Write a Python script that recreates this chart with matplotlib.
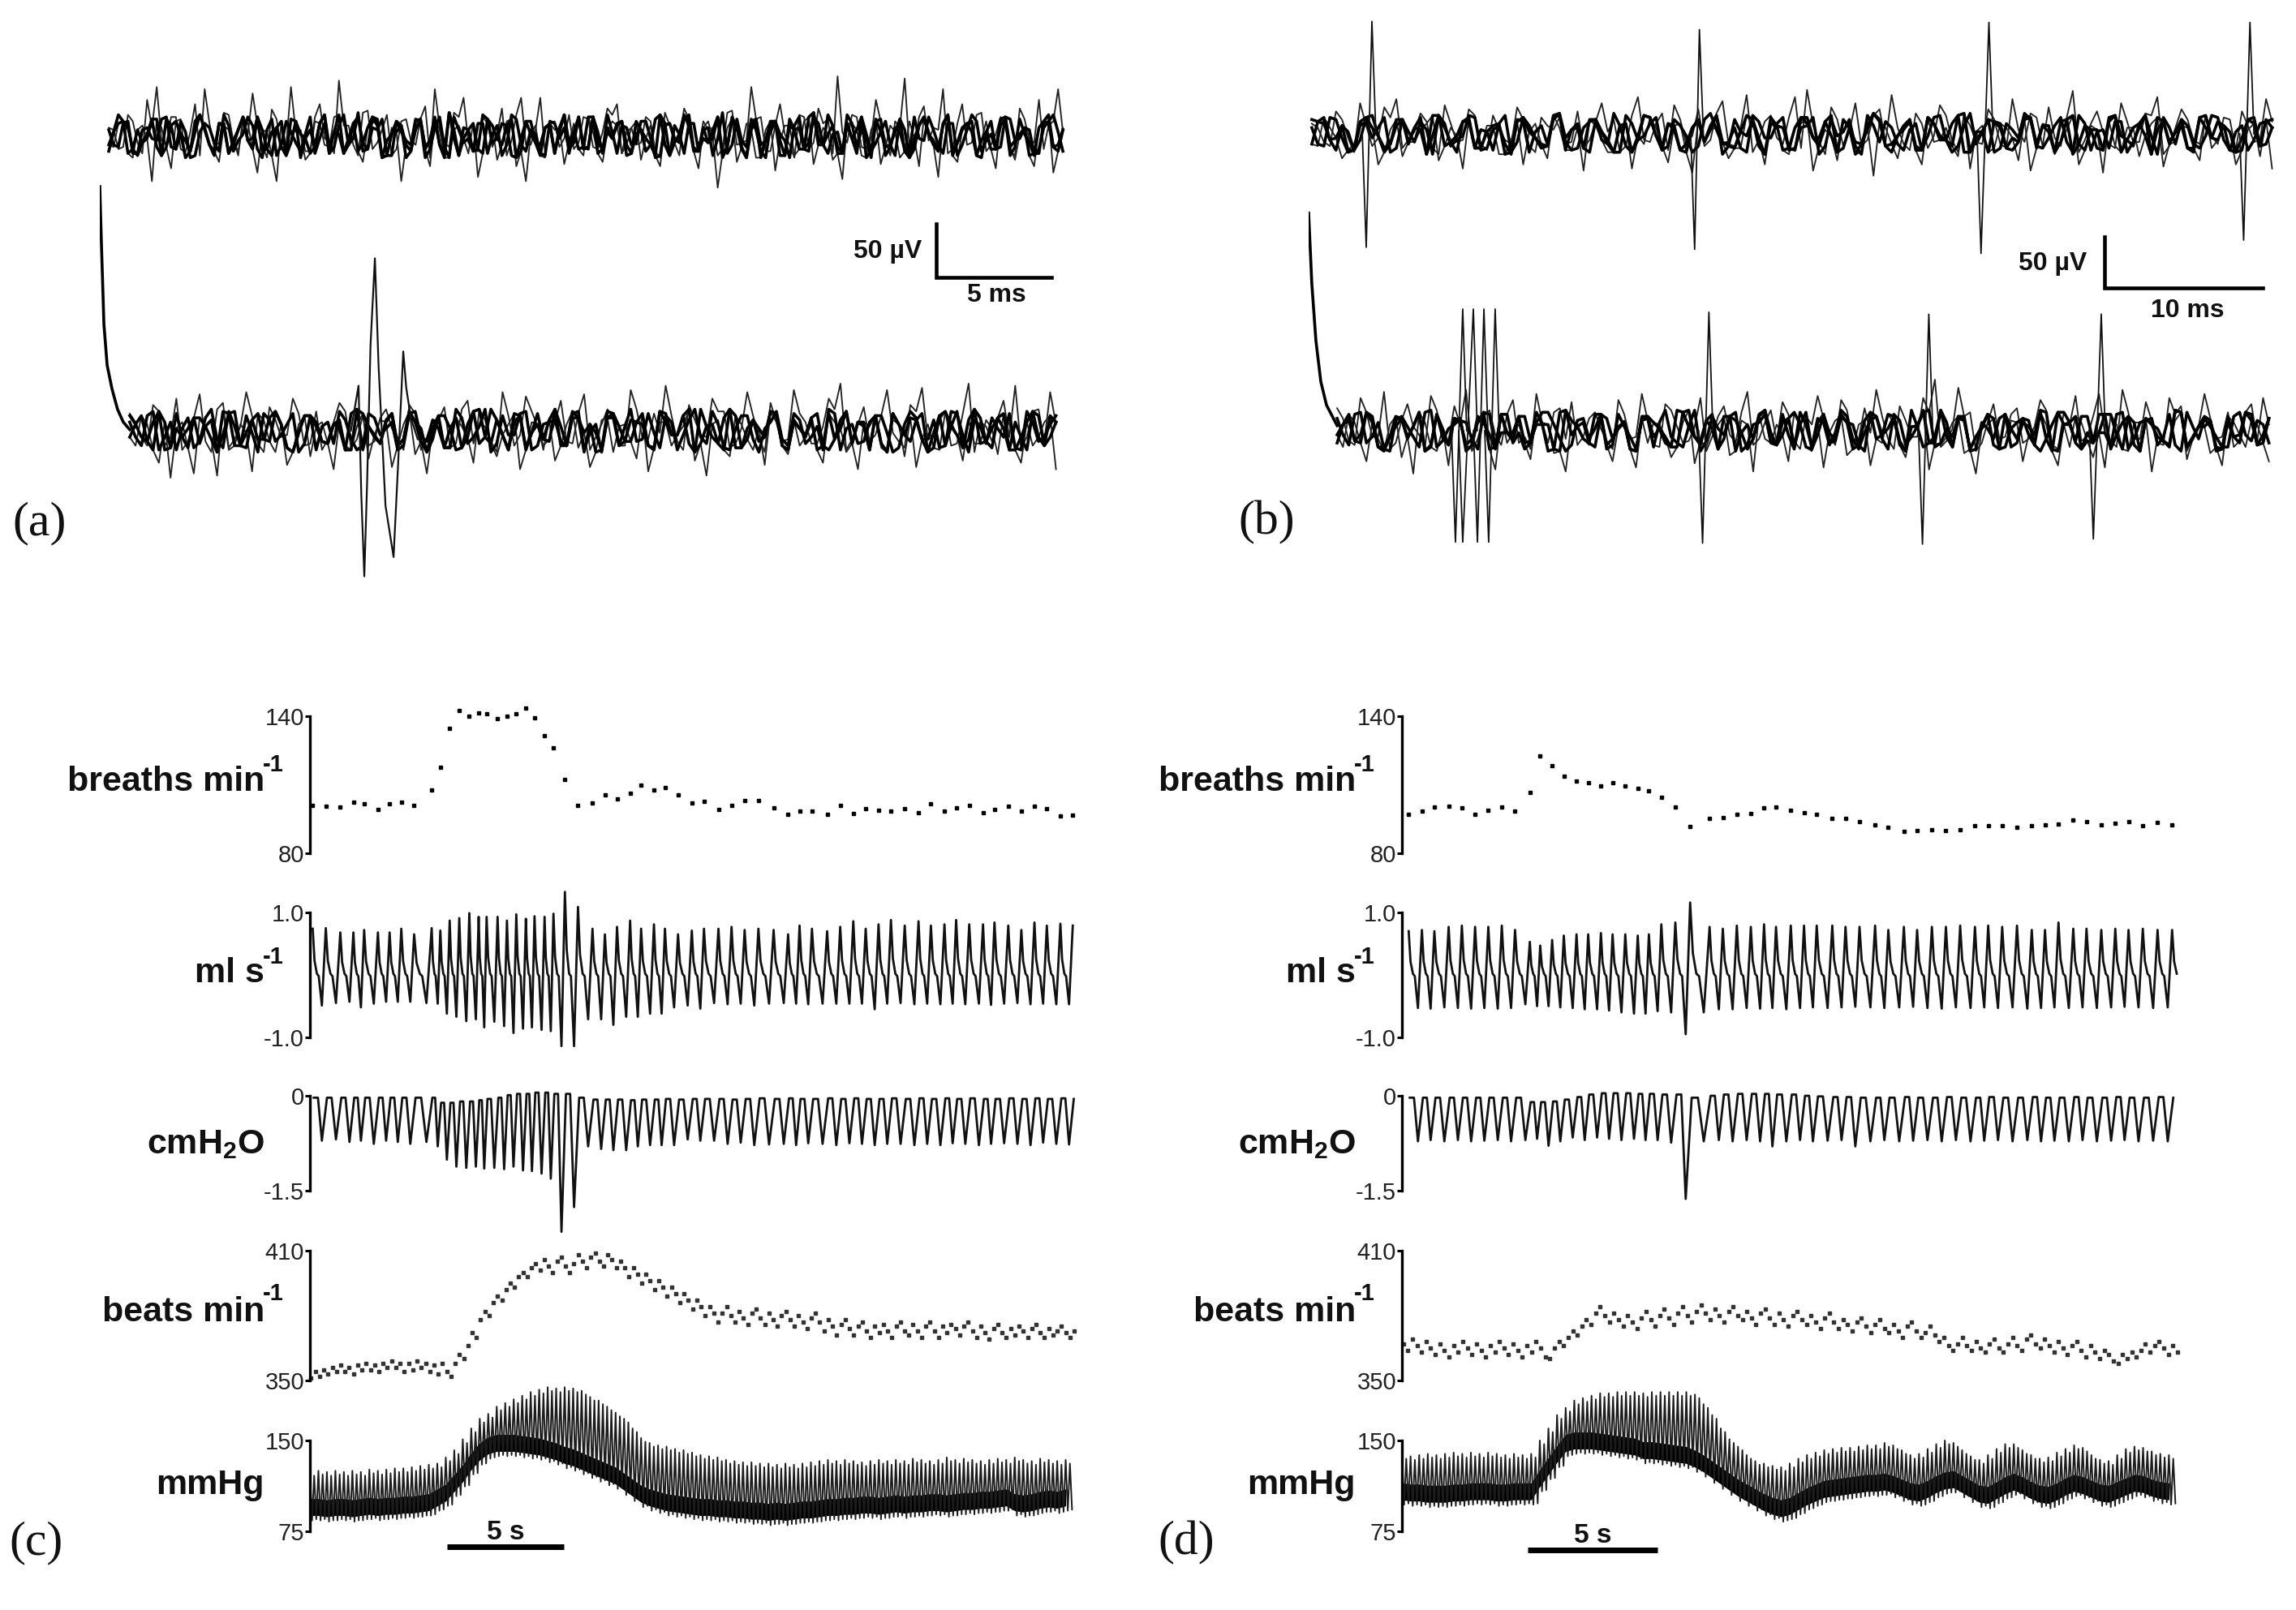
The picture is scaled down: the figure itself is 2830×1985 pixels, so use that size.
# respiratory and unit recordings, panels a-d
import matplotlib
matplotlib.use('Agg')
import matplotlib.pyplot as plt
import numpy as np

W, H = 2830, 1985

# ---------- unit recordings (uV from baseline) ----------
a_up_1 = [8,-12,20,-6,34,46,-8,18,-15,30,44,-10,22,-5,12,40,-8,25,-12,46,6,-14,30,-4,52,10,-18,24,-6,20,-12,16,-8,28,44,-6,22,36,-14,18,-10,26,-4,36,-8,36,12,-10,20,-6,16,-12,26,30,4,-8,18,-14,22,-6,26,-10,14,8,-12,24,-6,46,18,-14,30,-8,20,-12,26,16,56,-6,18,-12,34,-4,14,54,-10,28,8,44,-12,30,-6,22,-8,18,-14,26,-4,34,10,44]
a_up_2 = [-10,14,-20,10,-42,8,-30,16,-12,20,-8,-24,6,-18,12,-34,4,-42,-14,10,-22,14,-8,18,-16,6,-24,12,-18,8,-42,-12,14,-28,6,-20,10,-16,-38,8,-22,14,-28,-42,10,-20,6,-26,12,-18,4,-24,14,-16,8,-22,10,-28,12,-18,6,-30,14,-48,8,-24,12,-20,6,-32,10,-18,14,-26,8,-22,-40,12,-18,6,-26,10,-20,14,-28,6,-38,12,-24,8,-18,14,-30,10,-22,6,-28,12,-34,8]
a_up_3 = [6,-10,14,-16,8,-4,18,-12,4,-18,12,-6,20,-14,2,10,-20,16,-8,4,-14,18,-2,-16,10,-8,22,-12,6,-18,14,-4,16,-20,8,-10,18,-6,-14,12,2,-18,20,-8,6,-16,14,-2,-12,18,-10,4,20,-16,8,-6,14,-20,10,-2,16,-12,6,-18,22,-8,-4,16,-14,10,2,-20,18,-6,12,-16,4,20,-10,-2,14,-18,8,-12,18,-4,6,-16,12,-8,20,-14,2,10,-18,16,-6,-12,14,4]
a_up_4 = [-8,12,-16,6,-2,16,-10,14,-20,4,8,-14,10,-4,18,-12,6,-18,14,-6,2,-16,12,-10,20,-2,-14,8,16,-18,4,-8,14,-12,18,-20,6,-2,12,-16,10,-8,16,-14,2,-18,12,8,-6,-12,18,-16,4,10,-8,14,-2,-18,12,-6,20,-14,8,-2,-16,16,-10,6,-20,14,-4,10,-12,18,-8,2,-16,12,6,-20,16,-10,4,-14,-2,18,-8,12,-18,6,14,-4,-12,16,-10,2,-18,8,20,-14]

a_lo_1 = [16,-6,24,-14,30,-10,34,-20,26,-8,36,-12,22,-6,30,-14,18,-8,26,-16,14,-10,20,-6,24,-18,10,22,-12,28,6,-10,36,-14,32,4,-8,28,-12,34,-6,20,-14,38,-6,16,42,-10,24,-4,30,18,-12,36,-6,26,-10,38,8,-12,30,44,-8,22,-4,38,-10,24,40,-6,18,-12,44,8,-10,28,42,-6,20,36,-8,30,-12,26,34,-8,40,12,-6,28,-10,34,20,-14,26,-6,38,14,-8,30]
a_lo_2 = [-14,6,-30,-44,8,-40,4,-42,-18,6,-38,10,-20,-32,6,-24,8,-36,-14,4,-26,10,-34,6,-22,-40,8,-14,4,-30,10,-24,6,-36,8,-18,-28,6,-16,-34,10,-20,6,-26,-38,8,-14,4,-28,-42,10,-24,6,-18,-32,8,-22,-14,6,-30,8,-20,-36,4,-16,10,-24,-34,6,-18,8,-28,-12,10,-22,6,-30,-14,8,-36,-44,6,-20,8,-28,-16,4,-24,-50,8,-18,10,-30,-14,6,-34,-44,8,-22,10]
a_lo_3 = [8,-14,18,-6,-18,12,-10,20,-16,4,14,-20,10,-4,16,-12,-18,8,18,-8,-14,12,2,-18,16,-6,10,-16,20,-12,4,-20,14,-4,18,-14,8,-10,16,-18,6,12,-14,20,-8,-2,14,-18,10,-6,18,-16,2,14,-20,8,-8,16,-12,4,20,-18,6,-10,14,-2,-16,18,-8,10,-14,16,-20,4,12,-6,-16,18,-10,6]
a_lo_4 = [-6,14,-18,8,2,-16,12,-8,18,-14,-2,16,-10,6,-20,14,4,-12,10,-18,16,-4,8,-14,18,-10,2,-16,12,-6,20,-12,-4,16,-18,6,10,-14,18,-2,-20,12,4,-10,16,-16,8,-4,20,-12,6,-18,14,-8,2,18,-14,10,-6,-18,16,2,-12,8,14,-20,6,12,-8,-16,18,-4,10,-12,2,16,-18,8,-6,14]

b_up_1 = [10,-8,22,-4,30,-12,26,34,-6,20,-14,28,-8,24,-10,18,-6,26,-12,16,4,-10,22,-6,30,14,-12,36,-8,20,28,-10,24,-6,32,-12,38,-6,18,-10,36,43,-8,26,-12,30,-6,24,38,-10,20,-14,28,-6,18,-8,24,-10,34,-8,16,26,-12,42,-6,22,-10,30,-8,20,36,-12,24,-6,18,-10,14,22,-8,34,-6,24,-12,36,-8,28,-6,38,-10,30,34,-8,40,-12,36,-6,20,-10,26,-8]
b_up_2 = [-12,6,-24,-10,8,-30,4,-22,-8,10,-26,6,-34,-12,8,-20,-6,-30,10,-24,6,-16,-36,8,-18,4,-34,-10,6,-28,10,-38,-8,6,-24,-14,8,-30,6,-20,10,-36,4,-26,8,-18,-41,6,-24,10,-30,-8,6,-22,-34,8,-14,6,-26,-36,10,-20,4,-30,8,-38,-12,6,-22,10,-32,-8,6,-26,-14,8,-30,4,-22,-34,10,-18,6,-24,8,-36,-12,6,-28,-8,10,-32,4,-20,-38,6,-26,8,-16,-30]
b_up_3 = [6,-12,14,-18,8,-4,16,-14,2,12,-20,10,-6,18,-16,4,-10,14,-18,8,16,-8,-14,12,2,-18,18,-6,10,-16,14,-2,-12,20,-10,6,-18,12,-4,16,-14,8,-20,14,2,-12,18,-8,6,-16,10,-2,18,-18,8,-10,14,-14,4,20,-12,-4,16,-18,10,2,-14,12,-8,18,-20,6,14,-10,-2,16,-16,8,-6,12]
b_up_4 = [-10,16,-4,-16,12,6,-18,14,-8,4,18,-12,-2,16,-14,8,-20,12,2,-10,18,-16,6,14,-6,-18,10,-2,16,-12,8,-18,14,4,-8,-14,18,-4,10,-16,6,16,-12,-2,14,-20,8,12,-10,4,-16,16,-6,-12,20,2,-18,10,-4,14,-14,8,-8,18,-16,4,12,-18,6,-2,16,-10,8,-14,18,-6,2,-16,10,14]

b_lo_1 = [22,-10,32,-6,38,-12,26,-4,34,-10,24,40,-8,20,-14,30,-6,36,-12,22,28,-6,18,-10,30,-8,36,-14,26,4,-10,32,-6,24,-12,38,-8,20,28,-10,14,34,-6,30,-12,22,40,-8,24,-6,32,50,-10,42,18,-12,26,-6,22,-8,30,-14,18,34,-6,36,-10,40,-8,28,-12,32,24,-6,36,-8,18,-10,26,32,-6,22,-12,40,-6,18,-8,28,-10,24,44,-6,20,-12,30,-8,22,-6,38,-10]
b_lo_2 = [-16,8,-30,-8,6,-26,-42,8,-20,-34,6,-18,10,-38,-12,6,-28,8,-22,-40,6,-14,8,-30,10,-36,-12,6,-26,8,-32,-16,6,-24,10,-40,-8,6,-30,8,-20,-36,10,-24,6,-34,-12,8,-26,6,-38,-14,8,-22,-42,6,-18,10,-30,-8,6,-34,-16,8,-26,-36,6,-20,8,-40,-12,10,-28,6,-22,-34,8,-16,6,-30,-38,10,-20,6,-32,-12,8,-26,-40,6,-18,8,-34,-14,6,-24,8,-36,-12,6]
b_lo_3 = [12,-14,18,-6,-18,10,4,-16,20,-10,6,-20,14,-4,16,-12,-18,8,18,-8,-14,12,2,-18,16,-6,10,-16,20,-12,4,-20,14,-4,18,-14,8,-10,16,-18,6,12,-14,20,-8,-2,14,-18,10,-6,18,-16,2,14,-20,8,-8,16,-12,4,20,-18,6,-10,14,-2,-16,18,-8,10,-14,16,-20,4,12,-6,-16,18,-10,6]
b_lo_4 = [-4,16,-12,8,-20,14,-6,18,-16,2,12,-14,8,-18,16,-2,-12,18,6,-20,10,-8,16,-14,4,-18,12,8,-6,-16,20,-10,2,14,-20,6,16,-12,-4,18,-16,8,-2,14,-18,10,-8,16,-14,4,20,-12,-6,14,-18,2,12,-16,8,-4,18,-20,6,14,-10,-2,16,-18,8,12,-6,-14,18,-8,4,-16,14,-4,10,-12]

# spike shapes and time points (ms, uV)
a_spike_t = [10.9, 11.23, 11.35, 11.48, 11.6, 11.75, 11.94, 12.1, 12.4, 12.75, 12.95, 13.17, 13.3, 13.5, 13.8]
a_spike_uv = [0, 42, -60, -136, -50, 80, 161, 60, -70, -118, -30, 74, 40, 12, -8]
a_decay_t = [0, 0.07, 0.18, 0.32, 0.53, 0.77, 1.02, 1.30]
a_decay_uv = [228, 175, 99, 61, 39, 20, 8, 1]
b_decay_t = [0, 0.2, 0.46, 0.77, 1.13, 1.8]
b_decay_uv = [213, 144, 88, 48, 25, 5]
b_up_down_t = [3.64, 24.4, 42.5, 59.1]
b_up_up_t = [4.0, 24.7, 43.0, 59.5]
b_up_down_uv = [-111, -113, -117, -104]
b_up_up_uv = [110, 102, 109, 109]
b_lo_down_t = [9.28, 9.74, 10.67, 11.38, 24.9, 38.8, 49.6]
b_lo_up_t = [9.74, 10.41, 11.08, 11.79, 25.3, 39.2, 50.1]
b_lo_down_uv = [-109, -109, -109, -109, -110, -111, -106]
b_lo_up_uv = [119, 119, 119, 119, 116, 114, 114]

# ---------- breathing rate, one dot per breath (s, breaths/min) ----------
c_breath_t = [0.12,0.68,1.30,1.86,2.32,2.91,3.41,3.91,4.46,5.21,5.58,5.98,6.39,6.82,7.22,7.56,8.03,8.43,8.83,9.24,9.61,10.04,10.42,10.91,11.47,12.09,12.62,13.14,13.70,14.17,14.72,15.19,15.75,16.34,16.86,17.48,18.04,18.60,19.19,19.84,20.46,20.95,21.48,22.13,22.69,23.25,23.78,24.33,24.86,25.45,26.04,26.57,27.15,27.65,28.21,28.80,29.29,29.88,30.44,31.0,31.53,32.11,32.64]
c_breaths = [100.8,100.7,100.2,102.2,101.5,99.2,101.8,102.4,100.8,107.7,117.8,134.8,142.4,140.1,141.5,141.0,139.0,140.1,140.9,143.4,139.4,131.4,126.1,112.2,100.8,102.1,105.5,103.9,106.1,109.7,107.8,108.9,105.5,102.0,102.6,99.2,101.1,103.0,103.1,99.8,97.1,98.3,98.6,96.9,100.8,97.3,99.6,98.9,98.6,99.6,97.7,101.5,98.3,99.8,101.1,97.6,99.2,100.7,98.6,100.7,99.6,96.4,96.7]
d_breath_t = [0.26,0.77,1.25,1.80,2.31,2.82,3.33,3.85,4.36,4.93,5.33,5.79,6.24,6.73,7.18,7.67,8.12,8.61,9.09,9.52,10.0,10.54,11.11,11.86,12.37,12.91,13.45,13.96,14.42,14.99,15.50,15.99,16.59,17.10,17.64,18.24,18.75,19.35,19.86,20.43,20.97,21.52,22.09,22.60,23.14,23.71,24.28,24.79,25.31,25.88,26.39,26.96,27.50,28.01,28.56,29.13,29.69]
d_breaths = [97.2,98.5,100.3,100.7,100.0,97.2,98.9,100.2,98.5,106.6,122.5,118.3,113.8,111.5,111.0,109.6,111.0,109.6,108.3,107.5,104.6,100.4,91.6,95.1,95.7,97.2,97.5,100.0,100.4,98.9,97.8,96.9,95.3,95.1,93.7,92.4,91.2,89.6,90.0,90.2,89.8,90.3,92.1,91.9,91.9,91.5,92.1,92.4,92.8,94.7,93.8,92.4,93.0,93.7,92.1,93.4,92.6]

# ---------- airflow, per breath (ml/s) ----------
c_flow_peak = [.74,.75,.68,.68,.72,.68,.68,.74,.65,.75,.71,.87,.91,.99,.93,.93,.93,.87,.97,.90,.94,.93,.98,1.33,1.09,.74,.65,.77,.87,.74,.81,.74,.65,.71,.74,.74,.77,.72,.74,.72,.65,.79,.74,.70,.77,.86,.74,.81,.88,.79,.86,.79,.81,.88,.81,.81,.84,.79,.72,.84,.79,.82,.79]
c_flow_low = [-.49,-.45,-.43,-.52,-.46,-.43,-.43,-.43,-.45,-.46,-.62,-.67,-.74,-.71,-.84,-.75,-.82,-.93,-.86,-.84,-.88,-.90,-1.14,-1.14,-.71,-.71,-.80,-.67,-.67,-.62,-.62,-.52,-.49,-.54,-.45,-.47,-.46,-.49,-.46,-.45,-.46,-.47,-.46,-.46,-.46,-.46,-.55,-.46,-.45,-.47,-.46,-.47,-.46,-.47,-.46,-.48,-.46,-.45,-.47,-.46,-.47,-.47,-.46]
d_flow_peak = [.70,.72,.70,.77,.79,.77,.77,.79,.72,.53,.47,.56,.63,.65,.65,.67,.65,.65,.63,.65,.81,.84,1.16,.77,.74,.79,.77,.81,.77,.79,.79,.79,.79,.77,.77,.79,.72,.77,.72,.77,.77,.79,.77,.79,.77,.79,.72,.72,.84,.74,.74,.72,.74,.72,.74,.72,.72]
d_flow_low = [-.53,-.54,-.52,-.53,-.54,-.53,-.54,-.53,-.47,-.50,-.50,-.52,-.53,-.55,-.55,-.57,-.60,-.62,-.62,-.58,-.60,-.95,-.60,-.55,-.55,-.53,-.54,-.53,-.55,-.53,-.52,-.53,-.52,-.51,-.52,-.53,-.52,-.51,-.53,-.54,-.52,-.53,-.52,-.53,-.52,-.54,-.53,-.52,-.53,-.52,-.53,-.52,-.51,-.52,-.53,-.52,-.53]

# ---------- airway pressure, per breath (cmH2O) ----------
c_press_top = [-.03,-.03,-.03,-.03,-.03,-.03,-.03,-.03,-.03,-.03,-.11,-.11,-.09,-.09,-.07,-.05,-.03,.01,.03,.03,.05,.05,.03,.03,-.03,-.06,-.06,-.06,-.07,-.06,-.06,-.05,-.06,-.05,-.05,-.05,-.06,-.05,-.04,-.05,-.04,-.05,-.05,-.04,-.05,-.04,-.05,-.05,-.04,-.05,-.04,-.05,-.04,-.05,-.04,-.05,-.05,-.04,-.05,-.04,-.05,-.04,-.05]
c_press_low = [-.71,-.69,-.73,-.71,-.76,-.71,-.73,-.76,-.73,-.80,-1.01,-1.12,-1.14,-1.12,-1.15,-1.14,-1.16,-1.12,-1.18,-1.19,-1.23,-1.31,-2.15,-1.76,-.80,-.84,-.86,-.86,-.80,-.78,-.78,-.78,-.69,-.71,-.71,-.76,-.74,-.78,-.77,-.76,-.78,-.75,-.76,-.78,-.75,-.76,-.78,-.76,-.76,-.78,-.76,-.78,-.75,-.76,-.78,-.76,-.75,-.76,-.78,-.74,-.76,-.77,-.78]
d_press_top = [-.03,-.03,-.03,-.03,-.03,-.03,-.03,-.03,-.03,-.10,-.10,-.09,-.06,-.02,.02,.04,.04,.04,.03,.03,.02,.02,-.03,.0,.02,.03,.03,.03,.02,.02,.0,-.01,-.02,-.02,-.03,-.03,-.03,-.02,-.03,-.03,-.02,-.03,-.03,-.02,-.03,-.03,-.02,-.03,-.03,-.02,-.03,-.03,-.02,-.03,-.03,-.02,-.03]
d_press_low = [-.72,-.70,-.72,-.70,-.72,-.71,-.70,-.72,-.70,-.68,-.79,-.72,-.66,-.70,-.66,-.68,-.70,-.68,-.70,-.70,-.74,-1.63,-.72,-.70,-.72,-.70,-.72,-.80,-.72,-.70,-.72,-.71,-.70,-.80,-.72,-.70,-.72,-.71,-.70,-.72,-.70,-.72,-.71,-.70,-.72,-.70,-.72,-.71,-.72,-.70,-.72,-.71,-.70,-.72,-.71,-.72,-.72]

# ---------- heart rate, one dot per beat (beats/min) ----------
c_beats = [351,354,352,355,353,356,354,357,354,356,353,357,355,358,355,357,354,358,356,359,356,358,354,358,355,359,356,358,354,357,353,358,354,352,358,362,360,366,372,370,378,382,380,386,389,387,392,395,393,398,400,398,402,404,401,406,403,400,405,407,403,400,404,408,405,402,407,409,405,403,408,406,402,405,402,398,402,399,395,399,396,392,396,393,389,393,390,386,390,387,383,387,384,380,384,381,377,381,384,380,377,382,379,376,381,383,379,376,381,378,375,380,382,378,375,380,377,374,379,381,377,373,378,375,371,376,378,374,371,375,377,373,370,375,372,376,373,370,375,377,373,371,376,373,370,375,377,373,370,375,372,376,374,371,375,377,373,370,375,372,369,374,376,372,370,374,371,375,373,370,374,376,372,370,374,371,373,375,372,370,373]
d_beats = [367,364,369,366,363,368,365,362,367,364,361,366,363,368,365,362,367,364,361,366,363,368,365,362,367,364,361,366,363,368,365,361,360,365,368,366,370,373,371,375,378,376,381,384,380,377,381,378,375,380,377,374,379,382,378,375,380,383,379,376,381,384,380,377,382,385,381,378,383,380,377,382,384,380,378,382,379,376,381,383,379,376,381,378,375,380,382,378,376,380,377,374,379,381,377,374,378,376,373,377,379,375,372,376,378,374,372,376,373,370,375,377,373,370,372,375,371,368,370,366,364,367,370,366,364,368,365,363,367,369,365,363,367,370,366,364,369,371,367,365,369,366,363,368,365,362,366,368,364,361,366,363,360,364,362,359,358,362,360,363,361,364,367,363,366,368,365,362,366,363]

# ---------- blood pressure, per group of beats (mmHg) ----------
c_bp_top = [124,125,124,125,124,125,124,126,125,126,127,127,128,129,130,131,136,142,151,160,168,172,178,181,184,187,190,192,194,193,194,193,191,186,183,178,173,168,160,152,148,146,145,143,142,140,138,137,136,134,133,132,132,131,131,130,131,130,131,132,133,134,133,134,133,132,133,134,133,134,133,135,134,133,134,136,134,135,134,133,134,135,134,136,134,133,135,134,133,134]
c_bp_low = [84,84,83,84,84,83,84,85,84,85,85,86,86,87,88,92,96,104,112,122,130,135,137,137,137,136,135,134,132,130,127,125,122,119,116,113,110,105,100,95,92,90,88,87,86,85,84,84,83,83,82,82,81,81,80,81,80,81,82,82,83,84,84,85,85,86,86,85,86,87,86,87,87,88,88,87,88,89,89,90,90,91,92,88,87,88,90,91,90,92]
d_bp_top = [138,137,138,139,138,139,140,139,140,139,140,139,138,139,138,139,150,160,171,177,183,185,187,189,189,190,190,190,189,190,190,190,190,190,188,180,171,160,151,145,138,133,131,129,128,131,135,138,140,142,143,144,144,145,146,146,148,146,142,138,139,143,147,150,148,142,137,134,138,143,147,147,142,138,135,136,140,143,146,144,138,134,133,138,143,145,144,141,139,138]
d_bp_low = [97,96,96,95,95,95,96,96,97,97,97,96,96,97,97,97,108,118,128,137,139,139,139,138,137,136,135,134,131,131,130,129,128,127,124,120,115,110,105,100,96,92,88,85,83,85,89,93,96,99,100,101,102,103,104,104,105,103,100,97,96,99,103,106,107,103,99,95,94,98,102,105,102,98,95,94,97,101,104,102,99,96,95,98,101,104,103,100,98,97]

c_duration = 32.7
d_duration = 29.9


plt.rcParams['font.family'] = ['Liberation Sans', 'DejaVu Sans']
fig = plt.figure(figsize=(W / 100, H / 100), dpi=100, facecolor='white')


def px_axes(left, right, top, bottom):
    ax = fig.add_axes([left / W, 1 - bottom / H, (right - left) / W, (bottom - top) / H])
    ax.patch.set_alpha(0)
    return ax


def px_text(x, y, s, size, ha='center', weight='bold', family=None, color='#111111'):
    fig.text(x / W, 1 - y / H, s, fontsize=size, ha=ha, va='center', fontweight=weight,
             family=family if family else plt.rcParams['font.family'], color=color)


def weave(p, q):
    n = min(len(p), len(q))
    out = np.empty(2 * n)
    out[0::2] = p[:n]
    out[1::2] = q[:n]
    return out


def draw_unit(ax, t0, t1, thin_1, thin_2, core_1, core_2, offset):
    # several sweeps overlaid: thin outer excursions, heavy overlap near the baseline
    for s in [weave(thin_1, core_1), weave(core_2, thin_2)]:
        ax.plot(np.linspace(t0, t1, len(s)), s + offset, color='#222222', lw=1.35)
    for s in [weave(core_1, core_2), weave(core_2[::-1], core_1[::-1]), weave(core_2, core_1[::-1])]:
        ax.plot(np.linspace(t0, t1, len(s)), s + offset, color='black', lw=2.6)


def draw_spikes(ax, down_t, up_t, down_uv, up_uv, offset):
    for t_d, t_u, v_d, v_u in zip(down_t, up_t, down_uv, up_uv):
        ax.plot([t_d - 0.25, t_d, t_u, t_u + 0.25],
                [offset, v_d + offset, v_u + offset, offset], color='#111111', lw=1.3)


# (a)
ax_a = px_axes(123, 1320, 0, 730)
ax_a.set_xlim(0, 1197 / 28.4)
ax_a.set_ylim((168 - 730) / 1.32, 168 / 1.32)
ax_a.axis('off')
a_offset = (168 - 531) / 1.32
draw_unit(ax_a, 0.39, 41.8, a_up_1, a_up_2, a_up_3, a_up_4, 0)
draw_unit(ax_a, 1.3, 41.5, a_lo_1, a_lo_2, a_lo_3, a_lo_4, a_offset)
ax_a.plot(a_decay_t, np.array(a_decay_uv) + a_offset, color='black', lw=2.6)
ax_a.plot(a_spike_t, np.array(a_spike_uv) + a_offset, color='#111111', lw=1.6)
ax_a.plot([36.3, 36.3, 41.3], [-81.8, -131.8, -131.8], color='black', lw=3.3, solid_joinstyle='miter')
px_text(1094, 310, '50 µV', 23)
px_text(1228, 364, '5 ms', 23)

# (b)
ax_b = px_axes(1613, 2810, 0, 730)
ax_b.set_xlim(0, 1197 / 19.5)
ax_b.set_ylim((165 - 730) / 1.26, 165 / 1.26)
ax_b.axis('off')
b_offset = (165 - 531) / 1.26
draw_unit(ax_b, 0.2, 60.9, b_up_1, b_up_2, b_up_3, b_up_4, 0)
draw_unit(ax_b, 1.8, 60.7, b_lo_1, b_lo_2, b_lo_3, b_lo_4, b_offset)
ax_b.plot(b_decay_t, np.array(b_decay_uv) + b_offset, color='black', lw=2.6)
draw_spikes(ax_b, b_up_down_t, b_up_up_t, b_up_down_uv, b_up_up_uv, 0)
draw_spikes(ax_b, b_lo_down_t, b_lo_up_t, b_lo_down_uv, b_lo_up_uv, b_offset)
ax_b.plot([50.3, 50.3, 60.3], [-100.8, -150.8, -150.8], color='black', lw=3.3, solid_joinstyle='miter')
px_text(2530, 325, '50 µV', 23)
px_text(2696, 383, '10 ms', 23)


def flow_trace(t, peak, low, end):
    xs, ys = [], []
    for i in range(min(len(t), len(peak), len(low))):
        p = t[i + 1] - t[i] if i + 1 < len(t) else t[i] - t[i - 1]
        xs += [t[i], t[i] + 0.14 * p, t[i] + 0.32 * p, t[i] + 0.46 * p, t[i] + 0.7 * p]
        ys += [peak[i], 0.3 * peak[i], 0.02, -0.02, low[i]]
    xs, ys = np.array(xs), np.array(ys)
    return xs[xs <= end], ys[xs <= end]


def press_trace(t, top, low, end):
    xs, ys = [], []
    for i in range(min(len(t), len(top), len(low))):
        p = t[i + 1] - t[i] if i + 1 < len(t) else t[i] - t[i - 1]
        xs += [t[i] + 0.08 * p, t[i] + 0.4 * p, t[i] + 0.7 * p]
        ys += [top[i], top[i], low[i]]
    xs, ys = np.array(xs), np.array(ys)
    return xs[xs <= end], ys[xs <= end]


def bp_trace(t, top, low):
    xs, ys = [], []
    for i in range(len(t) - 1):
        p = t[i + 1] - t[i]
        xs += [t[i], t[i] + 0.25 * p, t[i] + 0.5 * p, t[i] + 0.75 * p]
        ys += [top[i], low[i], top[i] - 3, low[i] + 1]
    return xs, ys


rows = [(883, 1052, 80, 140, ['80', '140']),
        (1125, 1279, -1.0, 1.0, ['-1.0', '1.0']),
        (1351, 1468, -1.5, 0, ['-1.5', '0']),
        (1542, 1702, 350, 410, ['350', '410']),
        (1776, 1888, 75, 150, ['75', '150'])]
row_labels = [('breaths min', 964, 943), ('ml s', 1200, 1180), ('cmH$_{\\mathdefault{2}}$O', 1411, None),
              ('beats min', 1618, 1595), ('mmHg', 1831, None)]


def draw_panel(left, right, duration, breath_t, breaths, flow_peak, flow_low, press_top, press_low,
               beats, bp_top, bp_low, dot_size, bar_start, bar_y, bar_text_x, bar_text_y, label_right):
    axes = []
    for top, bottom, lo, hi, labels in rows:
        ax = px_axes(left, right, top, bottom)
        ax.set_xlim(0, duration)
        ax.set_ylim(lo, hi)
        for side in ['top', 'right', 'bottom']:
            ax.spines[side].set_visible(False)
        ax.spines['left'].set_linewidth(2.4)
        ax.set_xticks([])
        ax.set_yticks([lo, hi])
        ax.set_yticklabels(labels, fontsize=21, color='#222222')
        ax.tick_params(axis='y', length=4, width=2.2, pad=1)
        axes.append(ax)
    axes[0].plot(breath_t, breaths, ls='none', marker='s', ms=dot_size, color='black', clip_on=False)
    x, y = flow_trace(breath_t, flow_peak, flow_low, duration)
    axes[1].plot(x, y, color='#111111', lw=2.0, clip_on=False)
    x, y = press_trace(breath_t, press_top, press_low, duration)
    axes[2].plot(x, y, color='#111111', lw=2.0, clip_on=False)
    axes[3].plot(np.linspace(0.05, duration, len(beats)), beats, ls='none', marker='s', ms=2.4,
                 color='#333333', clip_on=False)
    n = min(len(bp_top), len(bp_low))
    bp_t = np.linspace(0, duration, n + 1)
    x, y = bp_trace(bp_t, bp_top, bp_low)
    axes[4].plot(x, y, color='#1c1c1c', lw=1.4, clip_on=False)
    # dark band along the diastolic level
    axes[4].fill_between(bp_t[:-1], np.array(bp_low[:n]) + 4, np.array(bp_low[:n]) + 18, color='black', lw=0,
                         clip_on=False)
    axes[4].plot([bar_start, bar_start + 5], [bar_y, bar_y], color='black', lw=5,
                 solid_capstyle='butt', clip_on=False)
    px_text(bar_text_x, bar_text_y, '5 s', 24)
    for (s, y_main, y_sup), _ in zip(row_labels, rows):
        px_text(label_right, y_main, s, 31, ha='right')
        if y_sup is not None:
            px_text(label_right - 2, y_sup, '-1', 21, ha='left')


draw_panel(382, 1324, c_duration, c_breath_t, c_breaths, c_flow_peak, c_flow_low, c_press_top, c_press_low,
           c_beats, c_bp_top, c_bp_low, 2.2, 5.87, 62, 623, 1889, 326)
draw_panel(1728, 2684, d_duration, d_breath_t, d_breaths, d_flow_peak, d_flow_low, d_press_top, d_press_low,
           d_beats, d_bp_top, d_bp_low, 3.4, 4.84, 59.6, 1963, 1893, 1671)

serif = ['Liberation Serif', 'DejaVu Serif']
px_text(49, 645, '(a)', 43, weight='normal', family=serif)
px_text(1561, 644, '(b)', 43, weight='normal', family=serif)
px_text(45, 1902, '(c)', 43, weight='normal', family=serif)
px_text(1462, 1902, '(d)', 43, weight='normal', family=serif)

fig.savefig('out.png', dpi=100, facecolor='white')
